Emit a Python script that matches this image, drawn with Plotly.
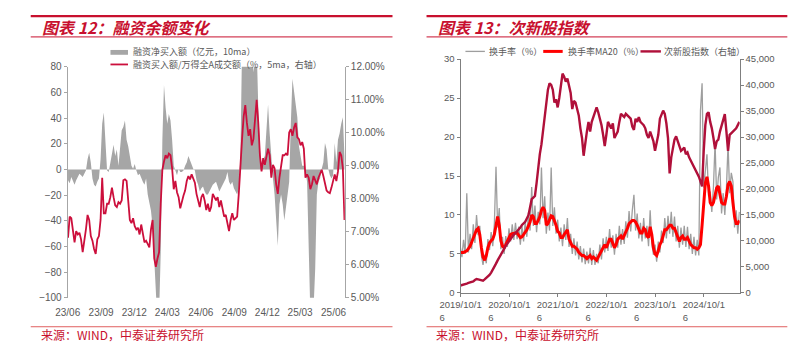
import pandas as pd
import plotly.graph_objects as go

# ---------------- Left chart data (图表12) ----------------
fin_net_buy = [  # 融资净买入额（亿元，10ma）
    -8.3, -10.8, -5.8, -9.5, -12.0, -8.3, -5.8, -3.3, -4.5, -5.8, -3.3, -0.8, 8.0, 13.1, 5.5, -7.0,
    -12.0, -13.3, -9.5, -7.0, 8.0, 35.6, 44.4, 23.1, -0.8, -2.0, 5.5, 13.1, 19.3, 10.5, 15.6, 3.0,
    18.1, 30.6, 33.1, 38.2, 23.1, 18.1, 10.5, 3.0, 0.5, 4.3, -0.8, -4.5, -3.3, -7.0, -9.5, -12.0,
    -7.0, -19.6, -27.1, -32.1, -44.7, -79.8, -115.0, -120.0, -112.0, -64.8, 23.1, 65.8, 48.2, 35.6,
    43.2, 38.2, 23.1, 3.0, -0.8, -4.5, 0.5, -2.0, -2.0, -0.8, 3.0, 5.5, 10.5, 6.8, 3.0, 0.5, -0.8,
    -8.3, -12.0, -17.1, -14.6, -13.3, -17.1, -19.6, -19.6, -17.1, -14.6, -12.0, -10.8, -9.5, -13.3,
    -17.1, -14.6, -12.0, -9.5, -7.0, -2.0, -9.5, -12.0, -9.5, -14.6, -17.1, -19.6, -14.6, 10.5, 95.0,
    110.0, 120.0, 105.0, 98.0, 90.0, 88.0, 75.8, 92.0, 96.0, 48.2, 15.6, 3.0, 8.0, 10.5, 35.6, 50.7,
    28.1, 5.5, -7.0, -19.6, -39.7, -59.7, -27.1, -19.6, -27.1, -39.7, -29.6, -19.6, -9.5, 35.6, 70.8,
    60.7, 50.7, 40.7, 18.1, 10.5, 3.0, 3.0, -2.0, -9.5, -77.3, -112.0, -125.0, -108.0, -77.3, -19.6,
    -9.5, -7.0, 0.5, 5.5, 20.6, 15.6, 0.5, -4.5, -7.0, -4.5, 20.6, 5.5, 23.1, 28.1, 35.6, 40.7, 10.5,
]
fin_buy_ratio = [  # 融资买入额/万得全A成交额（%，5ma，右轴）
    6.82, 7.46, 7.41, 6.97, 6.68, 7.02, 6.92, 6.97, 6.77, 6.38, 6.68, 7.07, 7.51, 7.36, 6.87, 6.73,
    6.48, 6.33, 6.77, 6.87, 7.36, 8.64, 7.56, 7.56, 7.85, 7.85, 8.05, 8.34, 8.05, 7.80, 7.75, 7.90,
    7.85, 7.95, 8.56, 8.59, 8.54, 7.95, 7.36, 7.26, 7.41, 7.17, 7.07, 7.12, 6.92, 7.22, 6.87, 6.68,
    6.73, 6.63, 6.53, 7.07, 7.36, 6.19, 5.94, 6.19, 6.38, 7.85, 8.88, 9.13, 9.32, 9.23, 9.37, 9.32,
    8.93, 8.29, 8.54, 8.20, 8.05, 7.71, 7.95, 8.10, 8.25, 8.54, 8.69, 8.59, 8.74, 8.64, 8.49, 8.15,
    7.95, 7.75, 8.05, 8.15, 7.95, 7.66, 7.85, 7.61, 7.75, 8.15, 8.05, 7.95, 8.05, 7.75, 7.95, 7.75,
    7.46, 7.51, 7.22, 7.02, 7.36, 7.56, 7.36, 7.41, 7.46, 8.15, 9.13, 9.81, 10.50, 10.84, 10.30, 9.91,
    10.11, 9.62, 9.81, 10.30, 11.00, 10.30, 9.32, 8.83, 9.23, 9.03, 9.32, 9.52, 9.32, 8.64, 9.03,
    8.93, 8.44, 8.15, 8.64, 8.93, 9.32, 9.32, 9.37, 9.32, 10.01, 10.11, 9.91, 10.16, 10.30, 9.86, 9.81,
    9.62, 9.72, 9.52, 8.64, 8.74, 8.64, 8.29, 8.44, 8.69, 8.54, 8.44, 8.64, 8.74, 8.88, 8.69, 8.49,
    8.25, 8.20, 8.17, 8.34, 8.54, 8.74, 8.54, 8.83, 9.42, 9.32, 8.93, 7.36,
]
left_dates = pd.date_range("2023-06-02", "2025-07-01", periods=len(fin_buy_ratio))
left_ticks = pd.date_range("2023-06-01", "2025-06-01", freq="3MS")
left_legend_names = ["融资净买入额（亿元，10ma）", "融资买入额/万得全A成交额（%，5ma，右轴）"]

# ---------------- Right chart data (图表13) ----------------
turnover = [  # 换手率（%）
    5.9, 4.6, 6.8, 5.0, 12.8, 5.2, 7.6, 5.6, 8.8, 6.4, 10.0, 7.4, 8.6, 4.8, 3.6, 4.9, 3.8, 6.9, 5.5,
    7.8, 6.0, 8.9, 16.2, 8.4, 10.9, 5.6, 7.2, 5.0, 7.3, 5.9, 8.3, 6.6, 8.8, 6.8, 9.0, 6.9, 8.5, 6.2,
    8.6, 6.6, 9.2, 7.2, 10.3, 8.0, 13.6, 8.6, 11.2, 7.8, 10.4, 8.8, 16.1, 9.6, 12.4, 7.6, 10.3, 8.0,
    16.1, 8.6, 11.0, 7.6, 9.4, 6.6, 8.4, 6.0, 8.8, 6.8, 9.6, 5.9, 7.6, 5.0, 7.0, 4.8, 6.6, 4.3, 6.0,
    3.9, 5.7, 3.7, 5.3, 3.8, 5.8, 3.6, 5.5, 3.6, 5.0, 3.8, 6.2, 4.3, 7.0, 5.2, 7.2, 5.4, 8.2, 5.8,
    7.4, 4.9, 7.6, 5.8, 8.6, 6.2, 8.2, 6.3, 9.2, 7.1, 10.5, 7.9, 10.6, 12.6, 8.0, 10.2, 7.0, 9.0,
    6.6, 9.6, 7.0, 8.6, 6.0, 10.6, 6.4, 4.9, 6.2, 4.0, 6.6, 5.2, 8.0, 6.4, 9.6, 7.0, 9.9, 7.6, 10.4,
    7.2, 9.8, 6.6, 8.6, 5.8, 8.4, 6.2, 8.6, 5.9, 8.5, 5.6, 7.6, 5.0, 7.2, 4.8, 6.8, 4.8, 23.4, 26.9,
    13.5, 15.6, 17.8, 12.4, 13.0, 10.4, 13.6, 19.3, 12.0, 14.8, 16.1, 10.2, 12.8, 10.0, 13.4, 19.1,
    12.8, 15.4, 14.3, 8.4, 10.6, 7.6, 10.4,
]
turnover_ma20 = [  # 换手率MA20（%）
    5.2, 5.2, 5.2, 5.3, 5.4, 5.7, 6.0, 6.5, 7.1, 7.7, 8.1, 8.3, 7.5, 5.8, 4.6, 4.2, 4.8, 5.8, 6.4,
    6.7, 6.9, 7.5, 8.7, 9.8, 8.7, 6.7, 6.0, 5.8, 6.2, 6.7, 7.1, 7.5, 7.6, 7.7, 7.7, 7.7, 7.4, 7.1,
    7.2, 7.5, 7.8, 8.1, 8.6, 9.1, 10.0, 9.8, 8.9, 8.9, 9.3, 9.8, 10.6, 11.0, 10.6, 8.7, 8.9, 9.3,
    9.9, 9.8, 9.3, 8.7, 7.9, 7.7, 7.1, 7.1, 7.5, 7.9, 8.1, 6.9, 6.4, 6.0, 6.0, 5.8, 5.6, 5.2, 5.0,
    4.8, 4.8, 4.6, 4.4, 4.6, 4.8, 4.4, 4.6, 4.4, 4.2, 4.6, 5.0, 5.2, 5.8, 6.2, 5.8, 6.4, 6.9, 6.9,
    6.2, 5.8, 6.2, 6.9, 7.1, 7.3, 6.9, 7.3, 7.7, 8.3, 8.9, 9.1, 9.3, 9.3, 9.1, 8.7, 8.1, 7.7, 7.7,
    8.3, 8.1, 7.3, 7.1, 8.5, 7.5, 5.8, 5.0, 4.8, 5.4, 6.2, 6.6, 7.5, 8.1, 8.1, 8.5, 8.7, 8.7, 8.3,
    8.3, 7.7, 7.1, 6.6, 7.1, 7.3, 6.9, 6.9, 7.1, 6.6, 6.2, 6.0, 5.8, 5.8, 5.6, 5.8, 6.2, 8.7, 12.0,
    14.1, 14.9, 13.7, 11.6, 11.2, 11.6, 12.8, 13.5, 13.7, 12.4, 11.6, 11.4, 11.4, 12.4, 13.9, 14.3,
    13.7, 11.6, 9.8, 8.9, 8.9, 9.3,
]
subnew_index = [  # 次新股指数（右轴）
    1430, 1490, 1550, 1610, 1800, 1920, 1980, 2050, 2230, 2480, 2670, 2600, 2540, 2420, 2360, 2600,
    2850, 3160, 3470, 3910, 4400, 5020, 5640, 6260, 6880, 7500, 8120, 8620, 9050, 9490, 9980, 10480,
    10910, 11220, 11530, 11840, 12150, 12590, 13080, 13390, 13700, 14320, 14940, 16490, 18040, 18350,
    18660, 21140, 24240, 26720, 28580, 31060, 34160, 36640, 39120, 40360, 40050, 39120, 36640, 37260,
    35710, 37570, 39740, 42220, 41600, 40670, 41290, 39740, 38500, 35400, 36950, 36640, 35090, 34160,
    31680, 29820, 26410, 29200, 31060, 32920, 31060, 32920, 33850, 34470, 35710, 34780, 33540, 32300,
    30440, 28270, 30440, 32920, 32300, 31680, 32610, 29820, 30440, 31060, 32920, 34470, 34160, 33850,
    34470, 34160, 33850, 33540, 31990, 31370, 33540, 32920, 33850, 32920, 32610, 32300, 31680, 30440,
    29820, 31060, 30130, 29200, 27340, 29200, 30440, 33540, 34470, 35090, 34470, 32610, 29820, 23000,
    26100, 27960, 29510, 30130, 29200, 27960, 27340, 27650, 27960, 26720, 27030, 26100, 25480, 24860,
    24240, 23930, 23000, 22380, 21450, 20520, 27340, 32300, 34470, 34780, 32920, 31680, 29820, 27710,
    29200, 29510, 31060, 32300, 33540, 34410, 31060, 27340, 30440, 30750, 31060, 31370, 31680, 32300,
    32920,
]
right_dates = pd.date_range("2019-10-14", "2025-07-10", periods=len(turnover_ma20))
right_tickvals = ["2019-10-16", "2020-10-16", "2021-10-16", "2022-10-16", "2023-10-16", "2024-10-16"]
right_ticktext = [f"{y}/10/1<br>6" + "\u00a0" * 14 for y in range(2019, 2025)]
right_legend_names = ["换手率（%）", "换手率MA20（%）", "次新股指数（右轴）"]

RED = "#C8102E"
TXT = "#595959"
AX = "#A6A6A6"
CJK = "Noto Sans CJK SC"
NUM = "Liberation Sans"
C_AREA, C_RATIO = "#A6A6A6", "#CC0F3C"
C_TURN, C_MA, C_IDX = "#9E9E9E", "#FF0000", "#B0103A"

fig = go.Figure()

# left chart traces
fig.add_trace(go.Scatter(
    x=left_dates, y=fin_net_buy, name=left_legend_names[0],
    mode="lines", line=dict(width=0, color=C_AREA), fill="tozeroy",
    fillcolor=C_AREA, xaxis="x", yaxis="y"))
fig.add_trace(go.Scatter(
    x=left_dates, y=fin_buy_ratio, name=left_legend_names[1],
    mode="lines", line=dict(width=1.8, color=C_RATIO), xaxis="x", yaxis="y2"))

# right chart traces
fig.add_trace(go.Scatter(
    x=right_dates, y=turnover, name=right_legend_names[0], mode="lines",
    line=dict(width=1.3, color=C_TURN), xaxis="x2", yaxis="y3"))
fig.add_trace(go.Scatter(
    x=right_dates, y=turnover_ma20, name=right_legend_names[1], mode="lines",
    line=dict(width=3, color=C_MA), xaxis="x2", yaxis="y3"))
fig.add_trace(go.Scatter(
    x=right_dates, y=subnew_index, name=right_legend_names[2], mode="lines",
    line=dict(width=2.4, color=C_IDX), xaxis="x2", yaxis="y4"))

lfont = dict(family=NUM, size=10, color=TXT)
rfont = dict(family=NUM, size=9.5, color=TXT)
W, H = 800, 354
DARKAX = "#7F7F7F"

fig.update_layout(
    width=W, height=H, margin=dict(l=0, r=0, t=0, b=0),
    paper_bgcolor="white", plot_bgcolor="white", showlegend=False,
    font=dict(family=CJK, color=TXT),
    xaxis=dict(domain=[48 / W, 333 / W], anchor="y", type="date",
               range=["2023-06-01", "2025-07-02"], tickvals=list(left_ticks),
               tickformat="%y/%m", showgrid=False, showline=False, zeroline=False,
               ticks="outside", ticklen=5, tickcolor="rgba(0,0,0,0)", tickfont=lfont,
               tickangle=0),
    yaxis=dict(domain=[1 - 302 / H, 1 - 63 / H], anchor="x", range=[-100, 80], dtick=20,
               showgrid=False, zeroline=False, showline=True, linecolor=AX, linewidth=1,
               ticks="outside", ticklen=3, tickcolor=AX, tickfont=lfont),
    yaxis2=dict(overlaying="y", anchor="x", side="right", range=[5, 12], dtick=1,
                tickformat=".2f", ticksuffix="%", showgrid=False, zeroline=False,
                showline=True, linecolor=AX, linewidth=1, ticks="outside", ticklen=3,
                tickcolor=AX, tickfont=lfont),
    xaxis2=dict(domain=[452 / W, 739 / W], anchor="y3", type="date",
                range=["2019-10-16", "2025-07-12"], tickvals=right_tickvals,
                ticktext=right_ticktext, tickangle=0, showgrid=False, zeroline=False,
                showline=True, linecolor=DARKAX, linewidth=1, ticks="outside", ticklen=3,
                tickcolor=DARKAX, tickfont=rfont),
    yaxis3=dict(domain=[1 - 297 / H, 1 - 55 / H], anchor="x2", range=[0, 30], dtick=5,
                showgrid=False, zeroline=False, showline=True, linecolor=DARKAX,
                linewidth=1, ticks="outside", ticklen=3, tickcolor=DARKAX,
                tickfont=rfont),
    yaxis4=dict(overlaying="y3", anchor="x2", side="right", range=[0, 45000], dtick=5000,
                tickformat=",d", showgrid=False, zeroline=False, showline=True,
                linecolor=DARKAX, linewidth=1, ticks="outside", ticklen=3,
                tickcolor=DARKAX, tickfont=rfont),
)


def px_x(v):
    return v / W


def px_y(v):
    return 1 - v / H


shapes = []
# decorative header / footer rules
for x0, x1 in [(10, 382), (417, 788)]:
    shapes.append(dict(type="line", x0=px_x(x0), x1=px_x(x1), y0=px_y(10.5), y1=px_y(10.5),
                       line=dict(color=RED, width=2.2)))
    shapes.append(dict(type="line", x0=px_x(x0), x1=px_x(x1), y0=px_y(32), y1=px_y(32),
                       line=dict(color=RED, width=1)))
    shapes.append(dict(type="line", x0=px_x(x0), x1=px_x(x1), y0=px_y(332), y1=px_y(332),
                       line=dict(color="#E06060", width=1)))

# legend keys (left chart: stacked; right chart: one row)
shapes.append(dict(type="rect", x0=px_x(92), x1=px_x(110), y0=px_y(50.5), y1=px_y(45.5),
                   line=dict(width=0), fillcolor=C_AREA))
shapes.append(dict(type="line", x0=px_x(92), x1=px_x(110), y0=px_y(60.5), y1=px_y(60.5),
                   line=dict(color=C_RATIO, width=1.8)))
right_keys = [(457, 477, C_TURN, 1.3), (537, 557, C_MA, 3), (637, 658, C_IDX, 2.4)]
for x0, x1, c, w in right_keys:
    shapes.append(dict(type="line", x0=px_x(x0), x1=px_x(x1), y0=px_y(47), y1=px_y(47),
                       line=dict(color=c, width=w)))
for s in shapes:
    s.update(xref="paper", yref="paper")
fig.update_layout(shapes=shapes)

legend_font = dict(family=CJK, size=9, color=TXT)
for name, (x, y) in zip(left_legend_names, [(114, 47.5), (114, 60.5)]):
    fig.add_annotation(xref="paper", yref="paper", x=px_x(x), y=px_y(y), xanchor="left",
                       yanchor="middle", showarrow=False, text=name, font=legend_font,
                       borderpad=0)
for name, x in zip(right_legend_names, [480, 561, 660]):
    fig.add_annotation(xref="paper", yref="paper", x=px_x(x), y=px_y(47), xanchor="left",
                       yanchor="middle", showarrow=False, text=name, font=legend_font,
                       borderpad=0)

titles = [("图表 12：融资余额变化", 20), ("图表 13：次新股指数", 427)]
for text, x in titles:
    fig.add_annotation(xref="paper", yref="paper", x=px_x(x), y=px_y(21.5),
                       xanchor="left", yanchor="middle", showarrow=False,
                       text="<b><i>" + text + "</i></b>",
                       font=dict(family=CJK, size=16, color=RED))
for x in [18, 425]:
    fig.add_annotation(xref="paper", yref="paper", x=px_x(x), y=px_y(340.5),
                       xanchor="left", yanchor="middle", showarrow=False,
                       text="来源：WIND，中泰证券研究所",
                       font=dict(family=CJK, size=12, color=RED))

fig.write_html("out.html")
